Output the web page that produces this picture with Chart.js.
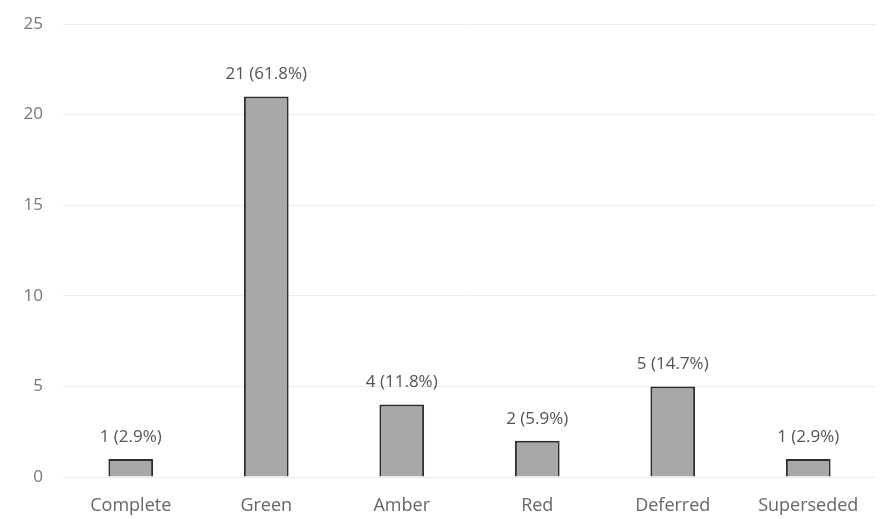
<!DOCTYPE html>
<html lang="en">
<head>
    <meta charset="UTF-8">
    <title>Status Counts</title>
    <script src="https://cdn.jsdelivr.net/npm/chart.js"></script>
    <style>
        body {
            margin: 0;
            background: #ffffff;
        }

        #wrap {
            width: 890px;
            height: 519px;
        }
    </style>
</head>
<body>
<div id="wrap">
    <canvas id="statusCanvas" width="890" height="519"></canvas>
</div>

<script>
    // Dati del grafico
    const categories = ['Complete', 'Green', 'Amber', 'Red', 'Deferred', 'Superseded'];
    const counts = [1, 21, 4, 2, 5, 1];
    const yTicks = [0, 5, 10, 15, 20, 25];

    const total = counts.reduce((a, b) => a + b, 0);
    const fontFamily = '"Open Sans", Lato, sans-serif';

    // Etichette sopra le barre: "n (x.x%)"
    const barLabels = {
        id: 'barLabels',
        afterDatasetsDraw(chart) {
            const ctx = chart.ctx;
            const meta = chart.getDatasetMeta(0);
            ctx.save();
            ctx.font = '17px ' + fontFamily;
            ctx.fillStyle = '#555555';
            ctx.textAlign = 'center';
            ctx.textBaseline = 'middle';
            meta.data.forEach((bar, i) => {
                const v = counts[i];
                const pct = (v / total * 100).toFixed(1);
                ctx.fillText(v + ' (' + pct + '%)', bar.x, bar.y - 22);
            });
            ctx.restore();
        }
    };

    function initializeChart() {
        const ctx = document.getElementById('statusCanvas').getContext('2d');
        new Chart(ctx, {
            type: 'bar',
            data: {
                labels: categories,
                datasets: [{
                    data: counts,
                    backgroundColor: '#a8a8a8',
                    borderColor: '#2e2e2e',
                    borderWidth: 2,
                    barPercentage: 0.33,
                    categoryPercentage: 1.0
                }]
            },
            options: {
                responsive: false,
                animation: false,
                layout: {
                    padding: { top: 24, right: 14, bottom: 0, left: 0 }
                },
                plugins: {
                    legend: { display: false },
                    tooltip: { enabled: false }
                },
                scales: {
                    x: {
                        afterFit(scale) {
                            scale.height = 42;
                        },
                        grid: { display: false, drawTicks: false },
                        border: { display: false },
                        ticks: {
                            color: '#666666',
                            font: { family: fontFamily, size: 18 },
                            padding: 18,
                            maxRotation: 0
                        }
                    },
                    y: {
                        min: 0,
                        max: 25,
                        afterBuildTicks(axis) {
                            axis.ticks = yTicks.map(v => ({ value: v }));
                        },
                        afterFit(scale) {
                            scale.width = 63;
                        },
                        grid: {
                            color: '#ececec',
                            lineWidth: 1,
                            drawTicks: true,
                            tickLength: 20,
                            tickColor: 'rgba(0,0,0,0)'
                        },
                        border: { display: false },
                        ticks: {
                            color: '#777777',
                            font: { family: fontFamily, size: 17 },
                            padding: 0
                        }
                    }
                }
            },
            plugins: [barLabels]
        });
    }

    window.onload = () => {
        initializeChart();
    };
</script>
</body>
</html>
